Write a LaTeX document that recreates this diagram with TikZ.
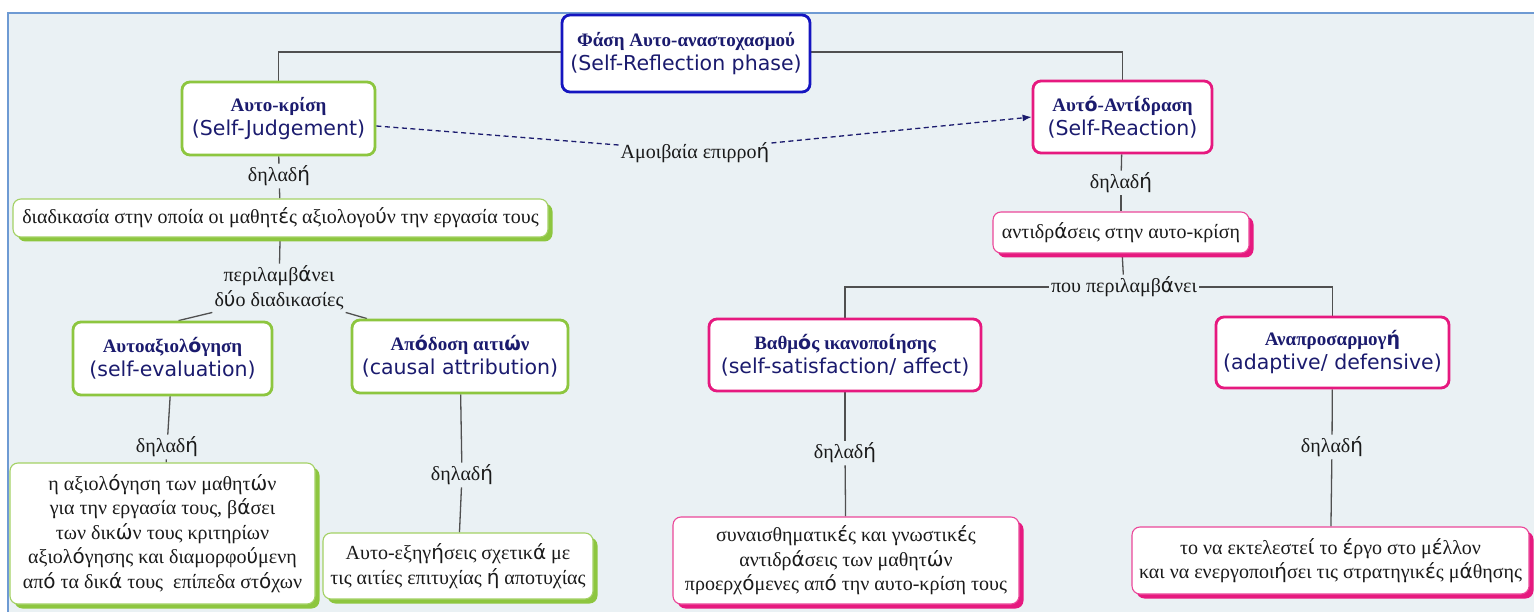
\documentclass[tikz,border=0pt]{standalone}
\usepackage{fontspec}
\setmainfont{Liberation Serif}
\newfontfamily\engfont{DejaVu Sans}
\newfontfamily\accfont{DejaVu Sans}
\usetikzlibrary{arrows.meta,shadows,backgrounds}
\definecolor{bgc}{HTML}{EAF1F4}
\definecolor{framec}{HTML}{6E9AD3}
\definecolor{cmgreen}{HTML}{8DC63F}
\definecolor{cmpink}{HTML}{E6197F}
\definecolor{rootb}{HTML}{1515C0}
\definecolor{navyt}{HTML}{1B1B6E}
\definecolor{linec}{HTML}{505050}
\definecolor{txt}{HTML}{1A1A1A}
% accented letters set in a sans face
\newcommand\vg[1]{{\accfont #1}}
\newcommand\cttl[1]{{\bfseries\color{navyt}#1}}
\newcommand\entxt[1]{{\engfont\fontsize{20.5}{24}\selectfont\color{navyt}#1}}
\tikzset{
  concept/.style={draw, line width=2.8pt, rounded corners=8pt, fill=white,
    align=center, inner sep=0pt, font=\fontsize{19}{24}\selectfont},
  gconcept/.style={concept, draw=cmgreen},
  pconcept/.style={concept, draw=cmpink},
  defbox/.style={draw, line width=1.1pt, rounded corners=8pt, fill=white,
    align=center, inner sep=0pt, text=txt, font=\fontsize{20}{24.5}\selectfont},
  gdef/.style={defbox, draw=cmgreen!80,
    general shadow={fill=cmgreen, shadow xshift=4.5pt, shadow yshift=-4.5pt}},
  pdef/.style={defbox, draw=cmpink!80,
    general shadow={fill=cmpink, shadow xshift=4.5pt, shadow yshift=-4.5pt}},
  lbl/.style={inner sep=2pt, align=center, text=txt, font=\fontsize{20}{25}\selectfont},
  conn/.style={draw=linec, line width=1.3pt},
  mutualline/.style={draw=navyt, line width=1.3pt, dash pattern=on 5pt off 3.5pt},
}
\begin{document}
\begin{tikzpicture}[x=1pt,y=-1pt]
\useasboundingbox (0,0) rectangle (1534,612);
\begin{scope}[on background layer]
  \fill[white] (0,0) rectangle (1534,612);
  \fill[bgc] (8,13) rectangle (1534,612);
  \draw[framec, line width=2.5pt] (8,612) -- (8,13) -- (1534,13);
\end{scope}

% top
\node[concept, draw=rootb, minimum width=248pt, minimum height=77pt] (root) at (686,53.5)
  {\cttl{Φάση Αυτο-αναστοχασμού}\\\entxt{(Self-Reflection phase)}};

% self-judgement branch
\node[gconcept, minimum width=193pt, minimum height=73pt] (sj) at (278.5,118.5)
  {\cttl{Αυτο-κρίση}\\\entxt{(Self-Judgement)}};
\node[lbl] (mutual) at (695,153) {Αμοιβαία επιρρο\vg{ή}};
\node[lbl] (d1) at (279,176) {δηλαδ\vg{ή}};
\node[gdef, minimum width=535pt, minimum height=38pt] (sjdef) at (280.5,218)
  {διαδικασία στην οποία οι μαθητ\vg{έ}ς αξιολογο\vg{ύ}ν την εργασία τους};
\node[lbl] (incl) at (279,288) {περιλαμβ\vg{ά}νει\\δ\vg{ύ}ο διαδικασίες};
\node[gconcept, minimum width=199pt, minimum height=73pt] (seval) at (172.5,358.5)
  {\cttl{Αυτοαξιολ\vg{ό}γηση}\\\entxt{(self-evaluation)}};
\node[gconcept, minimum width=216pt, minimum height=73pt] (cause) at (460,356.5)
  {\cttl{Απ\vg{ό}δοση αιτι\vg{ώ}ν}\\\entxt{(causal attribution)}};
\node[lbl] (d2) at (167,447) {δηλαδ\vg{ή}};
\node[gdef, minimum width=305pt, minimum height=141pt] (sevaldef) at (162.5,533.5)
  {η αξιολ\vg{ό}γηση των μαθητ\vg{ώ}ν\\για την εργασία τους, β\vg{ά}σει\\των δικ\vg{ώ}ν τους κριτηρίων\\αξιολ\vg{ό}γησης και διαμορφο\vg{ύ}μενη\\απ\vg{ό} τα δικ\vg{ά} τους\ \ επίπεδα στ\vg{ό}χων};
\node[lbl] (d3) at (462,475) {δηλαδ\vg{ή}};
\node[gdef, minimum width=270pt, minimum height=66pt] (causedef) at (458,566)
  {Αυτο-εξηγ\vg{ή}σεις σχετικ\vg{ά} με\\τις αιτίες επιτυχίας \vg{ή} αποτυχίας};

% self-reaction branch
\node[pconcept, minimum width=179pt, minimum height=72pt] (sr) at (1122.5,117)
  {\cttl{Αυτ\vg{ό}-Αντ\vg{ί}δραση}\\\entxt{(Self-Reaction)}};
\node[lbl] (d4) at (1121,183) {δηλαδ\vg{ή}};
\node[pdef, minimum width=256pt, minimum height=41pt] (srdef) at (1121,232.5)
  {αντιδρ\vg{ά}σεις στην αυτο-κρίση};
\node[lbl] (incl2) at (1124,287) {που περιλαμβ\vg{ά}νει};
\node[pconcept, minimum width=272pt, minimum height=72pt] (sat) at (845,355)
  {\cttl{Βαθμ\vg{ό}ς ικανοπο\vg{ί}ησης}\\\entxt{(self-satisfaction/ affect)}};
\node[pconcept, minimum width=233pt, minimum height=71pt] (adapt) at (1332.5,352.5)
  {\cttl{Αναπροσαρμογ\vg{ή}}\\\entxt{(adaptive/ defensive)}};
\node[lbl] (d5) at (845,453) {δηλαδ\vg{ή}};
\node[pdef, minimum width=346pt, minimum height=87pt] (satdef) at (846,560.5)
  {συναισθηματικ\vg{έ}ς και γνωστικ\vg{έ}ς\\αντιδρ\vg{ά}σεις των μαθητ\vg{ώ}ν\\προερχ\vg{ό}μενες απ\vg{ό} την αυτο-κρίση τους};
\node[lbl] (d6) at (1332,447) {δηλαδ\vg{ή}};
\node[pdef, minimum width=397pt, minimum height=67pt] (adaptdef) at (1330.5,560.5)
  {το να εκτελεστε\vg{ί} το \vg{έ}ργο στο μ\vg{έ}λλον\\και να ενεργοποι\vg{ή}σει τις στρατηγικ\vg{έ}ς μ\vg{ά}θησης};

% connectors
\begin{scope}[on background layer]
  \draw[conn] ([yshift=1.5pt]root.west) -| (sj.north);
  \draw[conn] ([yshift=1.5pt]root.east) -| (sr.north);
  \draw[conn] (sj) -- (d1);
  \draw[conn] (d1) -- (sjdef);
  \draw[conn] (sjdef) -- (incl);
  \draw[conn] (incl.south west) -- ([xshift=6pt]seval.north);
  \draw[conn] (incl.south east) -- ([xshift=-93pt]cause.north);
  \draw[conn] (seval) -- (d2);
  \draw[conn] (d2) -- (sevaldef);
  \draw[conn] (cause) -- (d3);
  \draw[conn] (d3) -- (causedef);
  \draw[conn] (sr) -- (d4);
  \draw[conn] (d4) -- (srdef);
  \draw[conn] (srdef) -- (incl2);
  \draw[conn] (incl2.west) -| (sat.north);
  \draw[conn] (incl2.east) -| (adapt.north);
  \draw[conn] (sat) -- (d5);
  \draw[conn] (d5) -- (satdef);
  \draw[conn] (adapt) -- (d6);
  \draw[conn] (d6) -- (adaptdef);
\end{scope}
\draw[mutualline] ([yshift=-7.5pt]sj.east) -- ([yshift=8pt]mutual.west);
\draw[mutualline, -{Latex[length=9pt,width=7pt]}] ([yshift=10pt]mutual.east) -- (sr.west);
\end{tikzpicture}
\end{document}
